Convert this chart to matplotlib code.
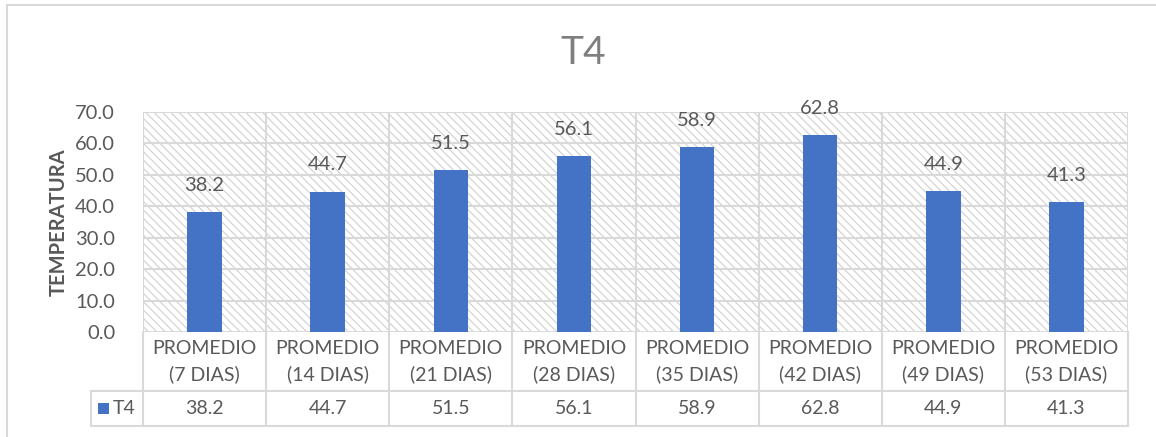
import matplotlib
matplotlib.use("Agg")
import matplotlib.pyplot as plt
from matplotlib.patches import Rectangle
from matplotlib.lines import Line2D

categories = ["PROMEDIO\n(7 DIAS)", "PROMEDIO\n(14 DIAS)", "PROMEDIO\n(21 DIAS)",
              "PROMEDIO\n(28 DIAS)", "PROMEDIO\n(35 DIAS)", "PROMEDIO\n(42 DIAS)",
              "PROMEDIO\n(49 DIAS)", "PROMEDIO\n(53 DIAS)"]
t4_values = [38.2, 44.7, 51.5, 56.1, 58.9, 62.8, 44.9, 41.3]
y_ticks = [0, 10, 20, 30, 40, 50, 60, 70]
series_name = "T4"

W, H = 1156, 437
DPI = 100
BAR = "#4472C4"
GRID = "#D9D9D9"
TXT = "#595959"
FONT = ["Lato", "DejaVu Sans"]
plt.rcParams["font.family"] = FONT
plt.rcParams["hatch.color"] = "#CFCFCF"
plt.rcParams["hatch.linewidth"] = 0.8

fig = plt.figure(figsize=(W / DPI, H / DPI), dpi=DPI)

def fx(px):
    return px / W

def fy(py):
    return 1 - py / H

# chart frame
fig.patches.append(Rectangle((fx(7), fy(H + 20)), fx(W + 20), fy(5) - fy(H + 20),
                             transform=fig.transFigure, fill=False,
                             edgecolor=GRID, linewidth=1.5, zorder=0))

left, right, top, bottom = 143, 1128, 112, 332
ax = fig.add_axes([fx(left), fy(bottom), fx(right - left), fy(top) - fy(bottom)])

n = len(categories)
ax.set_xlim(-0.5, n - 0.5)
ax.set_ylim(0, 70)

# hatched plot-area background
ax.add_patch(Rectangle((0, 0), 1, 1, transform=ax.transAxes, facecolor="white",
                       edgecolor="#CFCFCF", hatch="\\\\\\\\", linewidth=0, zorder=0))

for y in y_ticks:
    ax.axhline(y, color=GRID, linewidth=1.5, zorder=1)
for i in range(n + 1):
    ax.axvline(i - 0.5, color=GRID, linewidth=1.5, zorder=1)

x = list(range(n))
ax.bar(x, t4_values, width=0.28, color=BAR, zorder=3)
for xi, v in zip(x, t4_values):
    ax.annotate(f"{v:.1f}", (xi, v), xytext=(0, 13), textcoords="offset points",
                ha="center", va="bottom", fontsize=14.5, color=TXT)

for s in ax.spines.values():
    s.set_visible(False)
ax.set_xticks([])
ax.set_yticks(y_ticks)
ax.set_yticklabels([f"{t:.1f}" for t in y_ticks], fontsize=14.5, color=TXT)
ax.tick_params(axis="y", length=0, pad=20)
ax.set_ylabel("TEMPERATURA", fontsize=14.5, fontweight="bold", color=TXT, labelpad=5)

# data table under the axis
h_ax = bottom - top
row1 = -(391 - bottom) / h_ax
row2 = -(426 - bottom) / h_ax
legend_left = -(0.5) - (left - 91) / (right - left) * n
trans = ax.get_xaxis_transform()

def hline(x0, x1, y):
    ax.add_line(Line2D([x0, x1], [y, y], transform=trans, color=GRID,
                       linewidth=1.5, clip_on=False))

def vline(xv, y0, y1):
    ax.add_line(Line2D([xv, xv], [y0, y1], transform=trans, color=GRID,
                       linewidth=1.5, clip_on=False))

hline(legend_left, n - 0.5, row1)
hline(legend_left, n - 0.5, row2)
for i in range(n + 1):
    vline(i - 0.5, 0, row2)
vline(legend_left, row1, row2)

for xi, cat, v in zip(x, categories, t4_values):
    ax.text(xi, row1 / 2, cat, transform=trans, ha="center", va="center",
            fontsize=14, color=TXT, linespacing=1.5)
    ax.text(xi, (row1 + row2) / 2, f"{v:.1f}", transform=trans, ha="center",
            va="center", fontsize=14, color=TXT)

cell_w = (-0.5 - legend_left)
sq_h = 11 / h_ax
ax.add_patch(Rectangle((legend_left + cell_w * 0.14, (row1 + row2) / 2 - sq_h / 2),
                       cell_w * 11 / 52, sq_h, transform=trans,
                       facecolor=BAR, edgecolor="none", clip_on=False))
ax.text(legend_left + cell_w * 0.42, (row1 + row2) / 2, series_name, transform=trans,
        ha="left", va="center", fontsize=14, color=TXT)

fig.text(fx(583), fy(53), "T4", ha="center", va="center", fontsize=28, color="#7F7F7F")

fig.savefig("out.png", dpi=DPI)
